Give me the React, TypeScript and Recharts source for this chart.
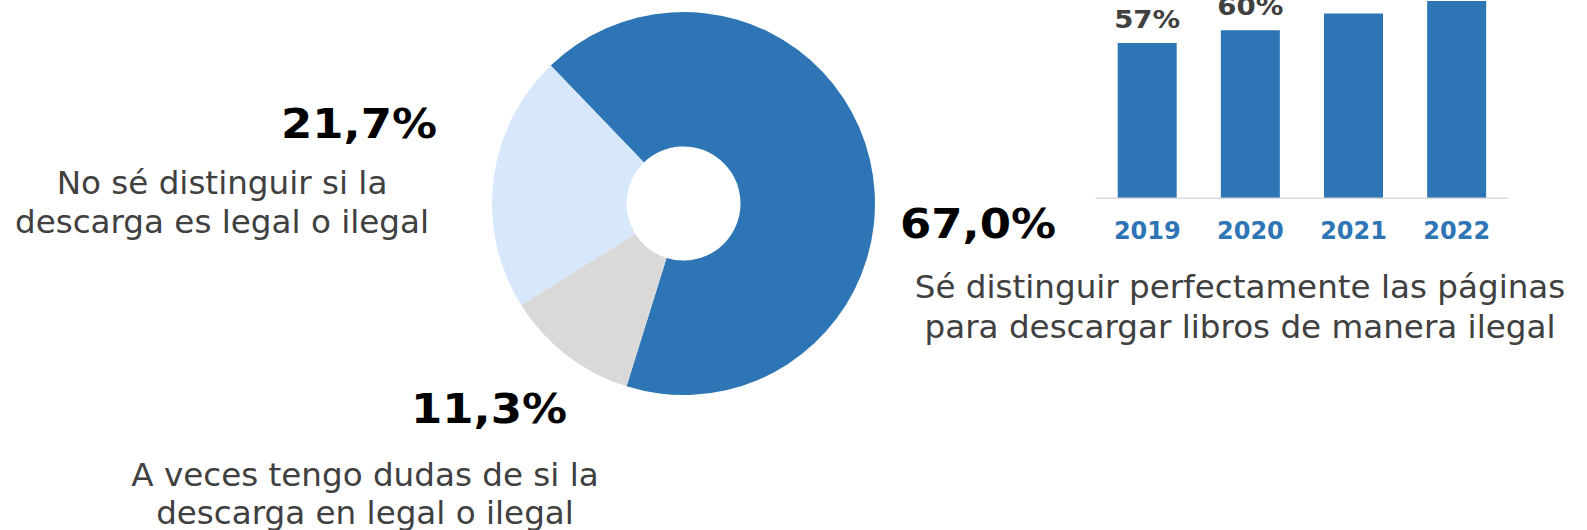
import React from 'react';
import { PieChart, Pie, Cell, BarChart, Bar, XAxis, YAxis, LabelList } from 'recharts';

// ---- Data ----
const pieNames = [
  'Sé distinguir perfectamente las páginas para descargar libros de manera ilegal',
  'A veces tengo dudas de si la descarga en legal o ilegal',
  'No sé distinguir si la descarga es legal o ilegal',
];
const pieValues = [67.0, 11.3, 21.7];
const pieColors = ['#2E75B6', '#D9D9D9', '#D7E7FC'];

const barYears = ['2019', '2020', '2021', '2022'];
const barValues = [57, 60, 64, 67];

const pieLabelLines = [
  ['Sé distinguir perfectamente las páginas', 'para descargar libros de manera ilegal'],
  ['A veces tengo dudas de si la', 'descarga en legal o ilegal'],
  ['No sé distinguir si la', 'descarga es legal o ilegal'],
];

const pieData = pieNames.map((name, i) => ({ name, value: pieValues[i] }));
const barData = barYears.map((year, i) => ({ year, value: barValues[i] }));

// ---- Layout (positions only) ----
const W = 1587;
const H = 530;
const FONT = 'Verdana, "DejaVu Sans", sans-serif';

const pctLayout = [
  { x: 900, y: 238.3, anchor: 'start' as const },
  { x: 567, y: 423.3, anchor: 'end' as const },
  { x: 437, y: 138.3, anchor: 'end' as const },
];
const textLayout = [
  { x: 1240, ys: [297.5, 338] },
  { x: 365, ys: [486, 523.5] },
  { x: 222, ys: [193.5, 232.5] },
];

const fmtPct = (v: number) => v.toFixed(1).replace('.', ',') + '%';

const BarLabel = (props: any) => {
  const { x, y, width, value } = props;
  return (
    <text
      x={x + width / 2}
      y={y - 15}
      textAnchor="middle"
      fontFamily={FONT}
      fontWeight="bold"
      fontSize={25}
      fill="#404040"
      textLength={66}
      lengthAdjust="spacingAndGlyphs"
    >
      {value + '%'}
    </text>
  );
};

const YearTick = (props: any) => {
  const { x, y, payload } = props;
  return (
    <text
      x={x}
      y={y + 40.3}
      textAnchor="middle"
      fontFamily={FONT}
      fontWeight="bold"
      fontSize={24}
      fill="#2E75B6"
    >
      {payload.value}
    </text>
  );
};

export default function App() {
  return (
    <div
      style={{
        position: 'absolute',
        left: 0,
        top: 0,
        width: W,
        height: H,
        overflow: 'hidden',
        background: '#fff',
      }}
    >
      <div style={{ position: 'absolute', left: 0, top: 0 }}>
        <PieChart width={W} height={H} margin={{ top: 0, right: 0, bottom: 0, left: 0 }}>
          <Pie
            data={pieData}
            dataKey="value"
            nameKey="name"
            cx={683.5}
            cy={203.5}
            innerRadius={57}
            outerRadius={191.5}
            startAngle={133.9}
            endAngle={-226.1}
            stroke="none"
            isAnimationActive={false}
          >
            {pieData.map((d, i) => (
              <Cell key={d.name} fill={pieColors[i]} />
            ))}
          </Pie>
        </PieChart>
      </div>

      <div style={{ position: 'absolute', left: 1080, top: -60 }}>
        <BarChart
          width={440}
          height={320}
          data={barData}
          margin={{ top: 6.3, right: 11.7, bottom: 21.7, left: 15.7 }}
          barSize={59}
        >
          <XAxis
            dataKey="year"
            axisLine={{ stroke: '#D9D9D9', strokeWidth: 1.5 }}
            tickLine={false}
            tickSize={0}
            tickMargin={0}
            height={40}
            tick={<YearTick />}
            interval={0}
          />
          <YAxis hide domain={[20, 80]} />
          <Bar dataKey="value" fill="#2E75B6" isAnimationActive={false}>
            <LabelList dataKey="value" content={<BarLabel />} />
          </Bar>
        </BarChart>
      </div>

      <svg
        width={W}
        height={H}
        style={{ position: 'absolute', left: 0, top: 0, pointerEvents: 'none' }}
      >
        {pieValues.map((v, i) => (
          <text
            key={'p' + i}
            x={pctLayout[i].x}
            y={pctLayout[i].y}
            textAnchor={pctLayout[i].anchor}
            fontFamily={FONT}
            fontWeight="bold"
            fontSize={41}
            fill="#000"
            textLength={156}
            lengthAdjust="spacingAndGlyphs"
          >
            {fmtPct(v)}
          </text>
        ))}
        {pieLabelLines.map((lines, i) =>
          lines.map((line, j) => (
            <text
              key={'t' + i + '-' + j}
              x={textLayout[i].x}
              y={textLayout[i].ys[j]}
              textAnchor="middle"
              fontFamily={FONT}
              fontSize={32.6}
              fill="#404040"
            >
              {line}
            </text>
          ))
        )}
      </svg>
    </div>
  );
}
